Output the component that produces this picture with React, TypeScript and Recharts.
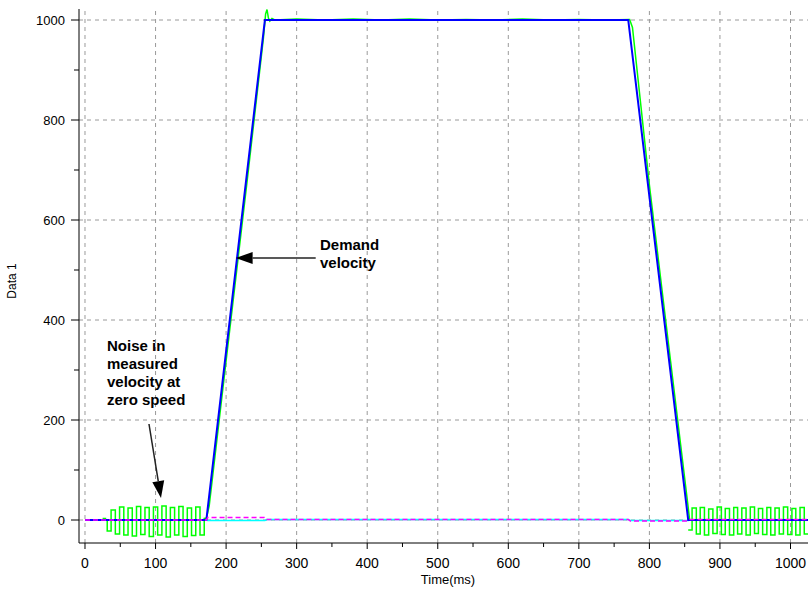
import { LineChart, Line, XAxis, YAxis, ReferenceLine } from 'recharts';

// time (ms) and velocity values
const demandVelocity: [number, number][] = [
  [0, 0], [172, 0], [255, 1000], [770, 1000], [855, 0], [1025, 0],
];

// measured velocity while moving (drawn straight)
const measuredMotion: [number, number][] = [
  [169, 3], [172, 3], [176, 28], [200, 318], [230, 680], [253, 965], [256, 1012],
  [258, 1021], [260, 1004], [262, 998], [265, 1003], [269, 1000], [300, 1002],
  [340, 1000], [380, 1002], [420, 1000], [460, 1002], [500, 1000], [540, 1001],
  [580, 1000], [620, 1002], [660, 1000], [700, 1001], [740, 1000], [772, 1001],
  [776, 985], [800, 670], [830, 318], [855, 25], [857, 0],
];

// measured velocity at standstill (stepped noise)
const measuredNoiseStart: [number, number][] = [
  [0, 0], [24, 0], [26, 3], [29, 0], [31.5, -22], [37, 20], [43, -28], [49, 26],
  [55, -30], [61, 24], [67, -32], [73, 27], [79, -29], [85, 25], [91, -33], [97, 26],
  [103, -30], [109, 28], [115, -34], [121, 25], [127, -30], [133, 27], [139, -33],
  [145, 24], [151, -31], [157, 26], [163, -30], [169, 3], [172, 3],
];

const measuredNoiseEnd: [number, number][] = [
  [855, -20], [860.5, 24], [866.5, -28], [872, 25], [878, -30], [884, 22], [890, -27],
  [896, 26], [902, -29], [907.5, 23], [913.5, -30], [919.5, 25], [925, -28], [931, 24],
  [937, -30], [943, 26], [949, -27], [954.5, 23], [960.5, -29], [966.5, 25], [972, -30],
  [978, 24], [984, -28], [990, 26], [996, -29], [1002, 23], [1007.5, -30], [1013.5, 25],
  [1019.5, -28], [1025, -28],
];

const followingError: [number, number][] = [
  [0, 0], [172, 0], [174, 5], [254, 5], [256, 1], [770, 1], [773, -2], [855, -2],
  [858, 1], [1025, 1],
];

const secondaryTrace: [number, number][] = [
  [0, 0], [172, 0], [174, -1], [255, -1], [258, 1], [770, 1], [773, -1], [855, -1],
  [858, 0], [1025, 0],
];

const xTicks = [0, 50, 100, 150, 200, 250, 300, 350, 400, 450, 500, 550, 600, 650, 700, 750, 800, 850, 900, 950, 1000];
const xGrid = [0, 100, 200, 300, 400, 500, 600, 700, 800, 900, 1000];
const yTicks = [0, 100, 200, 300, 400, 500, 600, 700, 800, 900, 1000];
const yGrid = [0, 200, 400, 600, 800, 1000];

const demandArrow = [{ x: 327, y: 524 }, { x: 213.5, y: 524 }];
const noiseArrow = [{ x: 90.7, y: 192 }, { x: 107.7, y: 44 }];

const toPoints = (pairs: [number, number][]) => pairs.map(([t, v]) => ({ t, v }));

function XTick(props: any) {
  const { x, y, payload } = props;
  const major = payload.value % 100 === 0;
  return (
    <g>
      <line x1={x} y1={y} x2={x} y2={y + (major ? 6 : 4)} stroke="#000" />
      {major && (
        <text x={x} y={y + 25} textAnchor="middle" fontSize={14} fill="#000">
          {payload.value}
        </text>
      )}
    </g>
  );
}

function YTick(props: any) {
  const { x, y, payload } = props;
  const major = payload.value % 200 === 0;
  return (
    <g>
      <line x1={x - (major ? 8 : 5)} y1={y} x2={x} y2={y} stroke="#000" />
      {major && (
        <text x={x - 14} y={y + 5} textAnchor="end" fontSize={13} fill="#000">
          {payload.value}
        </text>
      )}
    </g>
  );
}

function arrowShape(props: any) {
  const { x1, y1, x2, y2 } = props;
  const ang = Math.atan2(y2 - y1, x2 - x1);
  const len = 17;
  const half = 6;
  const bx = x2 - len * Math.cos(ang);
  const by = y2 - len * Math.sin(ang);
  const px = -Math.sin(ang) * half;
  const py = Math.cos(ang) * half;
  return (
    <g>
      <line x1={x1} y1={y1} x2={bx} y2={by} stroke="#222" strokeWidth={1.5} />
      <polygon points={`${x2},${y2} ${bx + px},${by + py} ${bx - px},${by - py}`} fill="#000" />
    </g>
  );
}

const noteStyle: React.CSSProperties = {
  position: 'absolute',
  fontWeight: 'bold',
  fontSize: 15,
  lineHeight: '18px',
  color: '#000',
};

export default function App() {
  return (
    <div
      style={{
        position: 'absolute',
        left: 0,
        top: 0,
        width: 808,
        height: 590,
        background: '#fff',
        fontFamily: '"Liberation Sans", Arial, sans-serif',
      }}
    >
      <LineChart width={808} height={590} margin={{ top: 9, right: 0, bottom: 0, left: 0 }}>
        <XAxis
          type="number"
          dataKey="t"
          domain={[-8.5, 1024.8]}
          allowDataOverflow
          ticks={xTicks}
          interval={0}
          height={47}
          tickSize={0}
          tickMargin={0}
          tickLine={false}
          axisLine={{ stroke: '#000' }}
          tick={<XTick />}
        />
        <YAxis
          type="number"
          dataKey="v"
          domain={[-46, 1022]}
          allowDataOverflow
          ticks={yTicks}
          interval={0}
          width={79}
          tickSize={0}
          tickMargin={0}
          tickLine={false}
          axisLine={{ stroke: '#000' }}
          tick={<YTick />}
        />
        {xGrid.map((v) => (
          <ReferenceLine key={`gx${v}`} x={v} stroke="#9a9a9a" strokeDasharray="4 4" />
        ))}
        {yGrid.map((v) => (
          <ReferenceLine key={`gy${v}`} y={v} stroke="#9a9a9a" strokeDasharray="4 4" />
        ))}
        <Line data={toPoints(measuredNoiseStart)} dataKey="v" type="stepAfter" stroke="#00ff00" strokeWidth={1.5} dot={false} isAnimationActive={false} />
        <Line data={toPoints(measuredNoiseEnd)} dataKey="v" type="stepAfter" stroke="#00ff00" strokeWidth={1.5} dot={false} isAnimationActive={false} />
        <Line data={toPoints(measuredMotion)} dataKey="v" type="linear" stroke="#00ff00" strokeWidth={1.5} dot={false} isAnimationActive={false} />
        <Line data={toPoints(secondaryTrace)} dataKey="v" type="linear" stroke="#00ffff" strokeWidth={1.5} dot={false} isAnimationActive={false} />
        <Line data={toPoints(demandVelocity)} dataKey="v" type="linear" stroke="#0000ff" strokeWidth={2} dot={false} isAnimationActive={false} />
        <Line data={toPoints(followingError)} dataKey="v" type="linear" stroke="#ff00ff" strokeWidth={1.5} strokeDasharray="5 3" dot={false} isAnimationActive={false} />
        <ReferenceLine segment={demandArrow} shape={arrowShape} />
        <ReferenceLine segment={noiseArrow} shape={arrowShape} />
      </LineChart>

      <div style={{ ...noteStyle, left: 320, top: 236 }}>
        Demand
        <br />
        velocity
      </div>
      <div style={{ ...noteStyle, left: 107, top: 337 }}>
        Noise in
        <br />
        measured
        <br />
        velocity at
        <br />
        zero speed
      </div>
      <div
        style={{
          position: 'absolute',
          left: 398,
          top: 572,
          width: 100,
          textAlign: 'center',
          fontSize: 13,
          color: '#000',
        }}
      >
        Time(ms)
      </div>
      <div
        style={{
          position: 'absolute',
          left: -38,
          top: 274,
          width: 100,
          textAlign: 'center',
          fontSize: 12,
          color: '#000',
          transform: 'rotate(-90deg)',
        }}
      >
        Data 1
      </div>
    </div>
  );
}
